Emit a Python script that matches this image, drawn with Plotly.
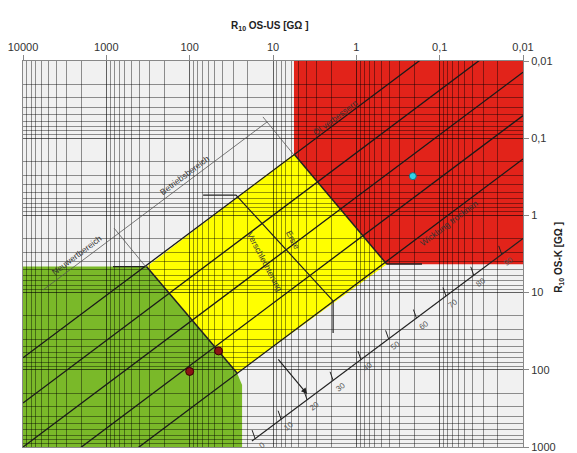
import math
import plotly.graph_objects as go

# ---------------- data (GΩ) ----------------
x_tickvals = [10000, 1000, 100, 10, 1, 0.1, 0.01]
x_ticktext = ["10000", "1000", "100", "10", "1", "0,1", "0,01"]
y_tickvals = [0.01, 0.1, 1, 10, 100, 1000]
y_ticktext = ["0,01", "0,1", "1", "10", "100", "1000"]

# zones: R10 OS-US (x) / R10 OS-K (y)
red_x = [5.6, 0.01, 0.01, 0.43, 5.6]
red_y = [0.01, 0.01, 4.3, 4.3, 0.16]
yellow_x = [325, 5.6, 0.43, 27]
yellow_y = [4.6, 0.16, 4.3, 110]
green_x = [10000, 330, 27, 23.5, 23.5, 10000]
green_y = [4.6, 4.6, 110, 157, 1000, 1000]

# parallel characteristic lines (start at x=10000, end at x=0.01)
iso_x = [10000, 0.01]
iso_y_left = [70, 270, 1000, 3700, 13400]
iso_y_right = [0.00098, 0.0037, 0.014, 0.051, 0.186]

# percentage scale
scale_x = [17.9, 0.01]
scale_y = [835, 1.99]
scale_labels = ["0", "10", "20", "30", "40", "50", "60", "70", "80", "90"]
scale_tick_x = [16.4, 8.0, 3.9, 1.9, 0.88, 0.41, 0.19, 0.084, 0.039, 0.018]

# measured points
meas_x = [100, 45]
meas_y = [105, 57]
test_x = [0.21]
test_y = [0.31]

# helper lines
dim_x = [5750, 11.8]
dim_y = [9.25, 0.0617]
ext1_x = [809, 334]
ext1_y = [1.46, 4.66]
ext2_x = [13.2, 5.6]
ext2_y = [0.053, 0.165]
bracket_x = [69, 27.8, 1.9, 1.9]
bracket_y = [0.545, 0.545, 12.8, 33.4]
gtop_x = [832, 334]
gtop_y = [4.6, 4.6]
rbot_x = [0.43, 0.163]
rbot_y = [4.26, 4.26]
ry_x = [5.6, 0.43]
ry_y = [0.16, 4.3]
gy_x = [330, 27]
gy_y = [4.6, 110]
arrow_from = (8.95, 70)
arrow_to = (3.9, 206)

# text labels: (R10 OS-US, R10 OS-K, text, angle, shift-off-line)
labels = [
    (2070, 3.67, "Neuwertbereich", -37, True),
    (105, 0.337, "Betriebsbereich", -37, True),
    (1.8, 0.0547, "Öl verbessern", -37, False),
    (0.077, 1.25, "Wicklung trocknen", -37, False),
    (5.75, 2.08, "Erste", 62, False),
    (12.5, 4.0, "Verschlechterung", 62, False),
]

L = math.log10

fig = go.Figure()


def path(xs, ys):
    return "M " + " L ".join(f"{x:.6f},{y:.6f}" for x, y in zip(xs, ys)) + " Z"


shapes = []
for xs, ys, col in [(red_x, red_y, "#E2231A"), (yellow_x, yellow_y, "#FFFF00"),
                    (green_x, green_y, "#7AB929")]:
    shapes.append(dict(type="path", path=path(xs, ys), xref="x", yref="y",
                       fillcolor=col, line=dict(width=0), layer="below"))


def add_line(xs, ys, color="#1a1a1a", width=1.3):
    fig.add_trace(go.Scatter(x=xs, y=ys, mode="lines", hoverinfo="skip",
                             line=dict(color=color, width=width)))


for yl, yr in zip(iso_y_left, iso_y_right):
    add_line(iso_x, [yl, yr])

add_line(ry_x, ry_y, "#222", 1.5)
add_line(gy_x, gy_y, "#222", 1.5)
add_line(gtop_x, gtop_y, "#222", 1.3)
add_line(rbot_x, rbot_y, "#222", 1.3)
add_line(bracket_x, bracket_y, "#222", 1.2)
add_line(dim_x, dim_y, "#555", 0.8)
add_line(ext1_x, ext1_y, "#555", 0.8)
add_line(ext2_x, ext2_y, "#555", 0.8)
add_line(scale_x, scale_y, "#222", 1.2)

# scale ticks
slope = (L(scale_y[0]) - L(scale_y[1])) / (L(scale_x[0]) - L(scale_x[1]))
tick_pos = []
for tx in scale_tick_x:
    ly = L(scale_y[1]) + slope * (L(tx) - L(scale_x[1]))
    tick_pos.append((L(tx), ly))
    add_line([tx, 10 ** (L(tx) + 0.036)], [10 ** ly, 10 ** (ly - 0.11)], "#222", 1.0)

fig.add_trace(go.Scatter(x=meas_x, y=meas_y, mode="markers", hoverinfo="skip",
                         marker=dict(size=8, color="#8B1414", line=dict(color="#3a0000", width=1))))
fig.add_trace(go.Scatter(x=test_x, y=test_y, mode="markers", hoverinfo="skip",
                         marker=dict(size=7, color="#2FD3E6", line=dict(color="#1a6f80", width=1))))

ann = []
for (lx, ly), t in zip(tick_pos, scale_labels):
    ann.append(dict(x=lx, y=ly, xref="x", yref="y", text=t, showarrow=False,
                    textangle=-37, xshift=7, yshift=-7,
                    font=dict(size=8, color="#555")))

txt_font = dict(size=8.5, color="#333", family="Liberation Sans, Arial")
for x, y, t, ang, off in labels:
    ann.append(dict(x=L(x), y=L(y), xref="x", yref="y", text=t, showarrow=False,
                    textangle=ang, font=txt_font,
                    xshift=-3 if off else 0, yshift=4 if off else 0))

ann.append(dict(x=L(arrow_to[0]), y=L(arrow_to[1]), ax=L(arrow_from[0]), ay=L(arrow_from[1]),
                xref="x", yref="y", axref="x", ayref="y", showarrow=True,
                arrowhead=2, arrowsize=1, arrowwidth=1.2, arrowcolor="#222", text=""))

ann.append(dict(x=0.494, y=1.111, xref="paper", yref="paper", showarrow=False,
                text="<b>R<sub>10</sub> OS-US [GΩ ]</b>",
                font=dict(size=10, color="#222", family="Liberation Sans, Arial")))
ann.append(dict(x=1.088, y=0.49, xref="paper", yref="paper", showarrow=False, textangle=-90,
                text="<b>R<sub>10</sub> OS-K [GΩ ]</b>",
                font=dict(size=10, color="#222", family="Liberation Sans, Arial")))

minor_vals = [m * 10 ** e for e in range(-2, 4) for m in range(2, 10)]

axis_common = dict(type="log", showline=True, linecolor="#888", linewidth=1, mirror=True,
                   gridcolor="rgba(0,0,0,0.6)", gridwidth=1.2, zeroline=False,
                   ticks="outside", ticklen=5, tickcolor="#888", automargin=False,
                   ticklabeloverflow="allow",
                   tickfont=dict(size=11, color="#333", family="Liberation Sans, Arial"),
                   minor=dict(tickmode="array", tickvals=minor_vals, showgrid=True,
                              gridcolor="rgba(0,0,0,0.42)", gridwidth=0.8, ticks=""))

fig.update_xaxes(range=[4, -2], side="top", tickmode="array", tickvals=x_tickvals,
                 ticktext=x_ticktext, **axis_common)
fig.update_yaxes(range=[3, -2], side="right", tickmode="array", tickvals=y_tickvals,
                 ticktext=y_ticktext, **axis_common)

# the page adds an 8px body margin, so the figure margins are reduced accordingly
fig.update_layout(width=577, height=453,
                  margin=dict(l=15, r=62, t=53, b=14, autoexpand=False),
                  paper_bgcolor="white", plot_bgcolor="#F1F1F1", showlegend=False,
                  shapes=shapes, annotations=ann,
                  font=dict(family="Liberation Sans, Arial"))

fig.write_html("out.html")
